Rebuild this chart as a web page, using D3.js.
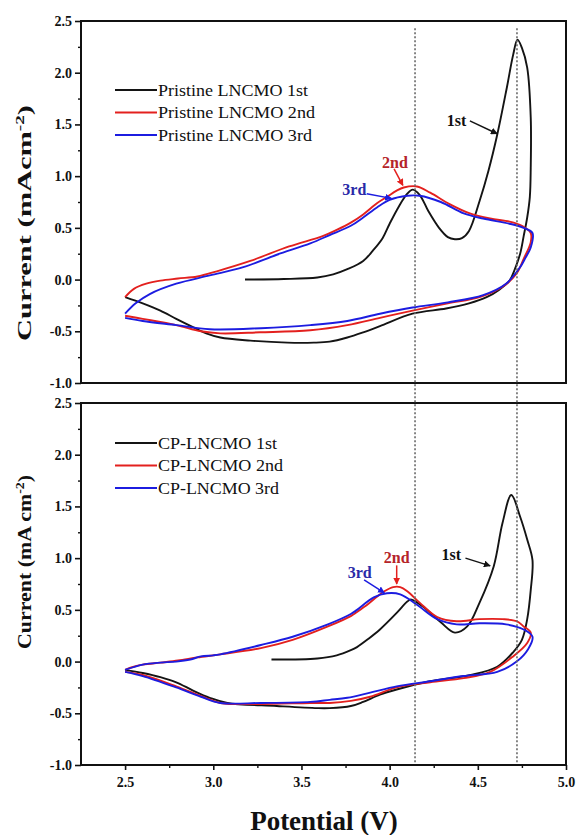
<!DOCTYPE html>
<html>
<head>
<meta charset="utf-8">
<script src="https://cdn.jsdelivr.net/npm/d3@7"></script>
<style>
  html, body { margin: 0; padding: 0; background: #fff; }
  svg { display: block; }
  text { font-family: "Liberation Serif", "Times New Roman", serif; }
</style>
</head>
<body>
<svg id="chart" width="579" height="835"></svg>
<script>
// ---- Cyclic voltammetry data: potential (V) vs current density (mA cm^-2) ----
// Pristine LNCMO
const pristine1stV = [3.18, 3.40, 3.59, 3.68, 3.76, 3.85, 3.905, 3.96, 4.00, 4.05, 4.10, 4.13, 4.17, 4.22, 4.28, 4.33, 4.37, 4.41, 4.45, 4.51, 4.56, 4.61, 4.665, 4.70, 4.725, 4.75, 4.78, 4.80, 4.80, 4.795, 4.78, 4.76, 4.74, 4.71, 4.68, 4.62, 4.55, 4.45, 4.32, 4.13, 3.945, 3.85, 3.76, 3.66, 3.57, 3.42, 3.21, 3.04, 2.96, 2.885, 2.79, 2.70, 2.60, 2.50];
const pristine1stI = [0.00, 0.005, 0.02, 0.05, 0.10, 0.18, 0.28, 0.40, 0.54, 0.70, 0.83, 0.87, 0.82, 0.66, 0.50, 0.41, 0.39, 0.40, 0.47, 0.76, 1.05, 1.40, 1.86, 2.17, 2.32, 2.24, 2.05, 1.57, 1.08, 0.80, 0.60, 0.42, 0.25, 0.10, -0.01, -0.10, -0.17, -0.23, -0.28, -0.33, -0.45, -0.51, -0.56, -0.60, -0.61, -0.61, -0.59, -0.56, -0.52, -0.46, -0.38, -0.30, -0.23, -0.17];

const pristine2ndV = [2.50, 2.55, 2.62, 2.70, 2.80, 2.91, 3.02, 3.21, 3.43, 3.62, 3.70, 3.78, 3.85, 3.93, 3.985, 4.04, 4.08, 4.155, 4.23, 4.34, 4.455, 4.57, 4.68, 4.75, 4.80, 4.80, 4.76, 4.72, 4.64, 4.51, 4.33, 4.13, 3.945, 3.76, 3.55, 3.265, 3.04, 2.93, 2.79, 2.60, 2.50];
const pristine2ndI = [-0.17, -0.09, -0.04, -0.01, 0.01, 0.03, 0.08, 0.18, 0.32, 0.42, 0.48, 0.55, 0.63, 0.74, 0.80, 0.86, 0.89, 0.90, 0.84, 0.73, 0.64, 0.59, 0.56, 0.52, 0.45, 0.36, 0.20, 0.06, -0.07, -0.17, -0.23, -0.30, -0.37, -0.44, -0.49, -0.51, -0.52, -0.50, -0.44, -0.38, -0.35];

const pristine3rdV = [2.50, 2.56, 2.64, 2.79, 2.98, 3.17, 3.36, 3.55, 3.66, 3.78, 3.85, 3.93, 4.00, 4.10, 4.17, 4.29, 4.42, 4.53, 4.68, 4.76, 4.81, 4.80, 4.77, 4.74, 4.66, 4.53, 4.33, 4.13, 3.945, 3.76, 3.55, 3.27, 2.98, 2.79, 2.60, 2.50];
const pristine3rdI = [-0.33, -0.23, -0.14, -0.04, 0.04, 0.12, 0.24, 0.35, 0.43, 0.52, 0.60, 0.70, 0.77, 0.81, 0.81, 0.75, 0.64, 0.59, 0.54, 0.50, 0.45, 0.31, 0.21, 0.12, -0.04, -0.15, -0.22, -0.27, -0.33, -0.40, -0.44, -0.47, -0.48, -0.44, -0.40, -0.37];

// CP-LNCMO
const cp1stV = [3.33, 3.59, 3.70, 3.78, 3.815, 3.88, 3.945, 4.04, 4.10, 4.12, 4.19, 4.29, 4.37, 4.44, 4.51, 4.59, 4.64, 4.69, 4.74, 4.78, 4.81, 4.80, 4.78, 4.75, 4.70, 4.61, 4.46, 4.23, 4.04, 3.945, 3.85, 3.78, 3.66, 3.59, 3.36, 3.08, 2.98, 2.885, 2.79, 2.70, 2.60, 2.50];
const cp1stI = [0.02, 0.03, 0.06, 0.11, 0.14, 0.22, 0.31, 0.47, 0.58, 0.60, 0.53, 0.38, 0.28, 0.34, 0.57, 0.92, 1.34, 1.61, 1.40, 1.18, 0.98, 0.69, 0.41, 0.21, 0.09, -0.05, -0.13, -0.19, -0.27, -0.32, -0.39, -0.43, -0.45, -0.45, -0.43, -0.40, -0.35, -0.28, -0.20, -0.15, -0.11, -0.08];

const cp2ndV = [2.50, 2.53, 2.60, 2.70, 2.80, 2.91, 3.04, 3.27, 3.45, 3.65, 3.78, 3.815, 3.88, 3.93, 3.97, 4.02, 4.06, 4.10, 4.17, 4.27, 4.38, 4.51, 4.64, 4.72, 4.76, 4.80, 4.78, 4.70, 4.57, 4.42, 4.23, 4.04, 3.89, 3.78, 3.66, 3.55, 3.27, 3.04, 2.94, 2.79, 2.60, 2.50];
const cp2ndI = [-0.08, -0.06, -0.03, -0.01, 0.01, 0.04, 0.07, 0.13, 0.21, 0.34, 0.44, 0.48, 0.56, 0.63, 0.68, 0.72, 0.72, 0.68, 0.57, 0.43, 0.39, 0.41, 0.41, 0.39, 0.34, 0.28, 0.18, 0.05, -0.10, -0.16, -0.20, -0.25, -0.34, -0.38, -0.40, -0.40, -0.41, -0.40, -0.34, -0.24, -0.13, -0.10];

const cp3rdV = [2.50, 2.60, 2.70, 2.79, 2.87, 2.93, 3.00, 3.04, 3.27, 3.45, 3.65, 3.78, 3.815, 3.91, 3.985, 4.06, 4.155, 4.27, 4.38, 4.51, 4.66, 4.76, 4.81, 4.785, 4.72, 4.61, 4.42, 4.23, 4.04, 3.89, 3.76, 3.66, 3.55, 3.27, 3.04, 2.93, 2.79, 2.60, 2.50];
const cp3rdI = [-0.08, -0.03, -0.01, 0.00, 0.02, 0.05, 0.06, 0.07, 0.16, 0.24, 0.36, 0.46, 0.50, 0.62, 0.66, 0.65, 0.55, 0.41, 0.36, 0.37, 0.36, 0.31, 0.24, 0.12, 0.00, -0.10, -0.14, -0.19, -0.24, -0.30, -0.35, -0.37, -0.39, -0.40, -0.40, -0.34, -0.25, -0.14, -0.10];

// Axis ticks and labels
const xTickValues = [2.5, 3.0, 3.5, 4.0, 4.5, 5.0];
const xMinorValues = [2.75, 3.25, 3.75, 4.25, 4.75];
const yTickValues = [-1.0, -0.5, 0.0, 0.5, 1.0, 1.5, 2.0, 2.5];
const yMinorValues = [-0.75, -0.25, 0.25, 0.75, 1.25, 1.75, 2.25];
const markerPotentials = [4.144, 4.722];   // dotted reference lines (V)

const cycleColors = ["#141414", "#e3201e", "#1c1ce0"];
const noteColors = ["#111111", "#b5242a", "#2a2aa8"];
const pristineLabels = ["Pristine LNCMO 1st", "Pristine LNCMO 2nd", "Pristine LNCMO 3rd"];
const cpLabels = ["CP-LNCMO 1st", "CP-LNCMO 2nd", "CP-LNCMO 3rd"];
const pristineLabelWidths = [150, 157, 154];
const cpLabelWidths = [119, 125, 121];

// Cycle call-outs: text position and arrow (from -> to), in data units
const pristineNotes = [
  { text: "1st", cycle: 0, tx: 4.38, ty: 1.54, x1: 4.455, y1: 1.535, x2: 4.61, y2: 1.41 },
  { text: "2nd", cycle: 1, tx: 4.03, ty: 1.13, x1: 4.025, y1: 1.07, x2: 4.075, y2: 0.91 },
  { text: "3rd", cycle: 2, tx: 3.80, ty: 0.87, x1: 3.87, y1: 0.83, x2: 4.01, y2: 0.785 }
];
const cpNotes = [
  { text: "1st", cycle: 0, tx: 4.35, ty: 1.04, x1: 4.43, y1: 1.00, x2: 4.57, y2: 0.925 },
  { text: "2nd", cycle: 1, tx: 4.04, ty: 1.01, x1: 4.04, y1: 0.93, x2: 4.04, y2: 0.75 },
  { text: "3rd", cycle: 2, tx: 3.83, ty: 0.86, x1: 3.855, y1: 0.79, x2: 3.97, y2: 0.665 }
];

// ---- Layout ----
const svg = d3.select("#chart");
const plotLeft = 81, plotRight = 566;
const panels = [
  { top: 21, bottom: 383, series: [[pristine1stV, pristine1stI], [pristine2ndV, pristine2ndI], [pristine3rdV, pristine3rdI]],
    labels: pristineLabels, widths: pristineLabelWidths, notes: pristineNotes, legendY: 90,
    yTitle: "Current (mAcm", titleCenter: 223, titleLen: 236, xLabels: false },
  { top: 403, bottom: 765, series: [[cp1stV, cp1stI], [cp2ndV, cp2ndI], [cp3rdV, cp3rdI]],
    labels: cpLabels, widths: cpLabelWidths, notes: cpNotes, legendY: 443,
    yTitle: "Current (mA cm", titleCenter: 562, titleLen: 174, xLabels: true }
];

const x = d3.scaleLinear().domain([2.25, 5.0]).range([plotLeft, plotRight]);

const defs = svg.append("defs");
cycleColors.forEach((c, i) => {
  defs.append("marker")
    .attr("id", "head" + i)
    .attr("viewBox", "0 0 10 10")
    .attr("refX", 9).attr("refY", 5)
    .attr("markerWidth", 7).attr("markerHeight", 7)
    .attr("markerUnits", "userSpaceOnUse")
    .attr("orient", "auto")
    .append("path").attr("d", "M0,0 L10,5 L0,10 z").attr("fill", c);
});

panels.forEach((p) => {
  const y = d3.scaleLinear().domain([-1.0, 2.5]).range([p.bottom, p.top]);
  const g = svg.append("g");

  // curves
  const line = d3.line()
    .x(d => x(d[0])).y(d => y(d[1]))
    .curve(d3.curveCatmullRom.alpha(0.5));
  p.series.forEach((s, i) => {
    const pts = s[0].map((v, k) => [v, s[1][k]]);
    g.append("path")
      .datum(pts)
      .attr("class", "cycle" + i)
      .attr("d", line)
      .attr("fill", "none")
      .attr("stroke", cycleColors[i])
      .attr("stroke-width", 1.9)
      .attr("stroke-linejoin", "round");
  });

  // frame
  g.append("rect")
    .attr("x", plotLeft).attr("y", p.top)
    .attr("width", plotRight - plotLeft).attr("height", p.bottom - p.top)
    .attr("fill", "none").attr("stroke", "#111").attr("stroke-width", 2);

  // y axis
  const yAxis = d3.axisLeft(y).tickValues(yTickValues).tickFormat(d3.format(".1f")).tickSize(6).tickPadding(3);
  const ya = g.append("g").attr("transform", `translate(${plotLeft},0)`).call(yAxis);
  ya.select(".domain").remove();
  ya.selectAll(".tick line").attr("stroke", "#111").attr("stroke-width", 1.6);
  ya.selectAll(".tick text")
    .attr("font-family", "Liberation Serif, serif").attr("font-weight", "bold")
    .attr("font-size", 14).attr("fill", "#111")
    .text(d => d3.format(".1f")(d).replace("−", "-"));
  const yMinor = d3.axisLeft(y).tickValues(yMinorValues).tickSize(3).tickFormat("");
  const ym = g.append("g").attr("transform", `translate(${plotLeft},0)`).call(yMinor);
  ym.select(".domain").remove();
  ym.selectAll(".tick line").attr("stroke", "#111").attr("stroke-width", 1.4);

  // x axis on the lower panel
  if (p.xLabels) {
    const xAxis = d3.axisBottom(x).tickValues(xTickValues).tickFormat(d3.format(".1f")).tickSize(5).tickPadding(7);
    const xa = g.append("g").attr("transform", `translate(0,${p.bottom})`).call(xAxis);
    xa.select(".domain").remove();
    xa.selectAll(".tick line").attr("stroke", "#111").attr("stroke-width", 1.6);
    xa.selectAll(".tick text")
      .attr("font-family", "Liberation Serif, serif").attr("font-weight", "bold")
      .attr("font-size", 14).attr("fill", "#111");
    const xMinor = d3.axisBottom(x).tickValues(xMinorValues).tickSize(3).tickFormat("");
    const xm = g.append("g").attr("transform", `translate(0,${p.bottom})`).call(xMinor);
    xm.select(".domain").remove();
    xm.selectAll(".tick line").attr("stroke", "#111").attr("stroke-width", 1.4);
  }

  // y title
  const t = g.append("text")
    .attr("transform", `translate(31,${p.titleCenter}) rotate(-90)`)
    .attr("text-anchor", "middle")
    .attr("font-weight", "bold").attr("font-size", 19).attr("fill", "#111")
    .attr("textLength", p.titleLen).attr("lengthAdjust", "spacingAndGlyphs");
  t.append("tspan").text(p.yTitle);
  t.append("tspan").attr("dy", -7).attr("font-size", 12).text("-2");
  t.append("tspan").attr("dy", 7).text(")");

  // legend
  p.labels.forEach((lab, i) => {
    const ly = p.legendY + i * 22.5;
    g.append("line")
      .attr("x1", 115).attr("x2", 157).attr("y1", ly).attr("y2", ly)
      .attr("stroke", cycleColors[i]).attr("stroke-width", 2);
    g.append("text")
      .attr("x", 158).attr("y", ly).attr("dy", "0.34em")
      .attr("font-size", 17).attr("fill", "#111")
      .attr("textLength", p.widths[i]).attr("lengthAdjust", "spacingAndGlyphs")
      .text(lab);
  });

  // call-outs
  p.notes.forEach(n => {
    g.append("line")
      .attr("x1", x(n.x1)).attr("y1", y(n.y1))
      .attr("x2", x(n.x2)).attr("y2", y(n.y2))
      .attr("stroke", cycleColors[n.cycle]).attr("stroke-width", 1.5)
      .attr("marker-end", `url(#head${n.cycle})`);
    g.append("text")
      .attr("x", x(n.tx)).attr("y", y(n.ty)).attr("dy", "0.35em")
      .attr("text-anchor", "middle")
      .attr("font-size", 16).attr("font-weight", "bold")
      .attr("fill", noteColors[n.cycle])
      .text(n.text);
  });
});

// dotted reference lines spanning both panels
const yTopScale = d3.scaleLinear().domain([-1.0, 2.5]).range([383, 21]);
const yBotScale = d3.scaleLinear().domain([-1.0, 2.5]).range([765, 403]);
markerPotentials.forEach(v => {
  svg.append("line")
    .attr("x1", x(v)).attr("x2", x(v))
    .attr("y1", yTopScale(2.43)).attr("y2", yBotScale(-0.98))
    .attr("stroke", "#6a6a6a").attr("stroke-width", 1.6)
    .attr("stroke-dasharray", "2,2");
});

// x title
svg.append("text")
  .attr("x", 324).attr("y", 830)
  .attr("text-anchor", "middle")
  .attr("font-weight", "bold").attr("font-size", 27).attr("fill", "#111")
  .text("Potential (V)");
</script>
</body>
</html>
